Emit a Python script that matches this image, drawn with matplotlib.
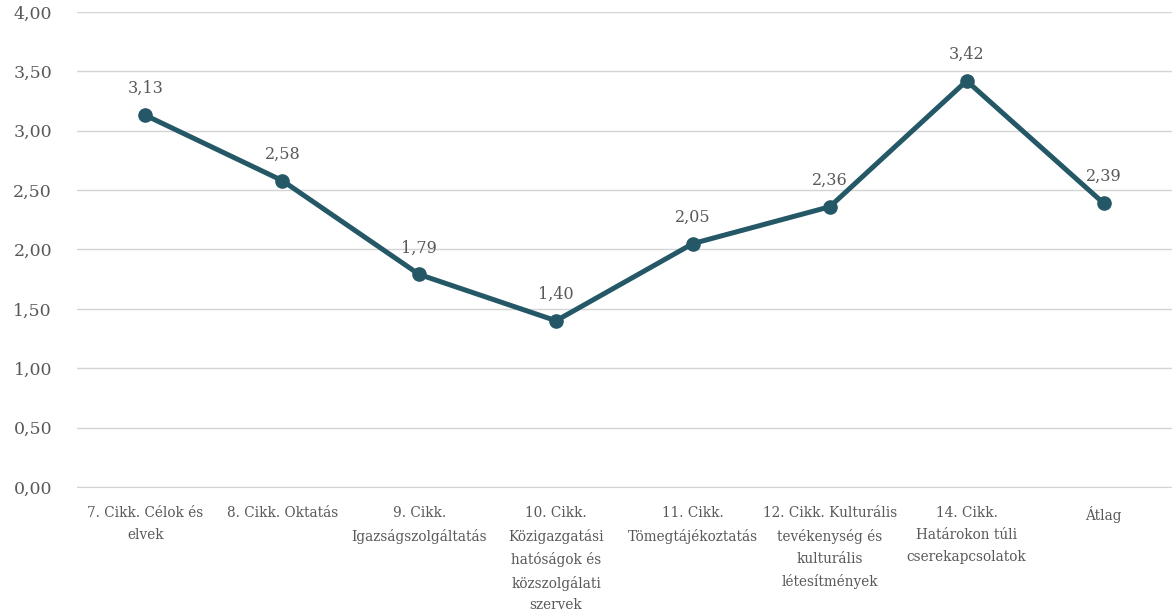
import matplotlib.pyplot as plt
import numpy as np

categories = ['7. Cikk. Célok és\nelvek',
              '8. Cikk. Oktatás',
              '9. Cikk.\nIgazságszolgáltatás',
              '10. Cikk.\nKözigazgatási\nhatóságok és\nközszolgálati\nszervek',
              '11. Cikk.\nTömegtájékoztatás',
              '12. Cikk. Kulturális\ntevékenység és\nkulturális\nlétesítmények',
              '14. Cikk.\nHatárokon túli\ncserekapcsolatok',
              'Átlag']
values = [3.13, 2.58, 1.79, 1.40, 2.05, 2.36, 3.42, 2.39]
y_ticks = [0.0, 0.5, 1.0, 1.5, 2.0, 2.5, 3.0, 3.5, 4.0]

plt.rcParams['font.family'] = ['DejaVu Serif']
text_color = '#595959'
line_color = '#255867'

fig = plt.figure(figsize=(11.72, 6.14), dpi=100)
ax = fig.add_axes([0.0657, 0.2068, 0.9343, 0.7737])

x = np.arange(len(categories))
ax.plot(x, values, color=line_color, linewidth=3.6, marker='o',
        markersize=9.5, zorder=3, solid_capstyle='round')

# data labels above points
for xi, v in zip(x, values):
    ax.annotate(f'{v:.2f}'.replace('.', ','), (xi, v), xytext=(0, 13),
                textcoords='offset points', ha='center', va='bottom',
                fontsize=11.5, color=text_color)

ax.set_xlim(-0.5, len(categories) - 0.5)
ax.set_ylim(0, 4)
ax.set_yticks(y_ticks)
ax.set_yticklabels([f'{t:.2f}'.replace('.', ',') for t in y_ticks],
                   fontsize=12.5, color=text_color)
ax.set_xticks(x)
ax.set_xticklabels(categories, fontsize=9.8, color=text_color, linespacing=1.7)

ax.grid(axis='y', color='#d4d4d4', linewidth=1)
ax.set_axisbelow(True)
for s in ['top', 'right', 'left']:
    ax.spines[s].set_visible(False)
ax.spines['bottom'].set_color('#d4d4d4')
ax.tick_params(axis='both', length=0)
ax.tick_params(axis='x', pad=14)
ax.tick_params(axis='y', pad=18)

fig.savefig('out.png', dpi=100)
